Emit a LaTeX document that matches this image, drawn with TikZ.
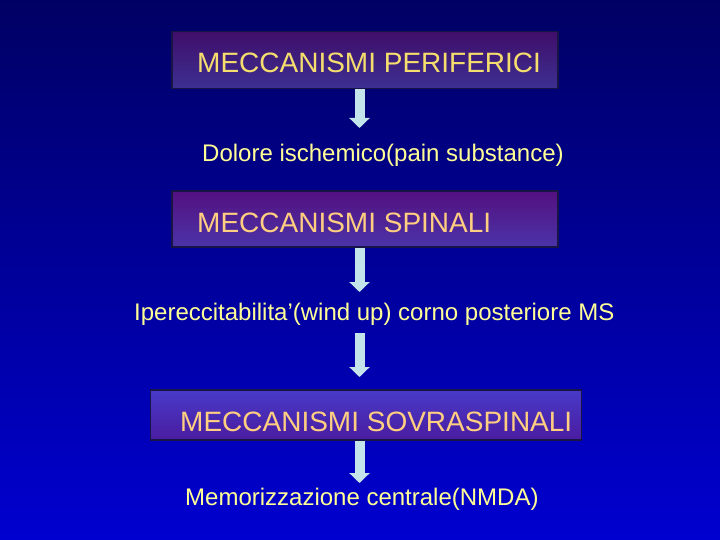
\documentclass[tikz,border=0pt]{standalone}
\usepackage{fontspec}
\setmainfont{Liberation Sans}
\usetikzlibrary{arrows.meta}

\definecolor{skytop}{RGB}{0,0,100}
\definecolor{skybottom}{RGB}{0,0,208}
\definecolor{boxline}{RGB}{24,20,70}
\definecolor{boxtext}{RGB}{255,206,128}
\definecolor{plaintext}{RGB}{255,255,150}
\definecolor{arrowfill}{RGB}{196,228,236}

\begin{document}
\begin{tikzpicture}[x=1pt, y=1pt,
    mechanism/.style ={rectangle, draw=boxline, line width=1.2pt},
    mechlabel/.style ={inner sep=0pt, anchor=base west, text=boxtext,
                       font=\fontsize{28}{32}\selectfont},
    finding/.style ={inner sep=0pt, anchor=base west, text=plaintext,
                     font=\fontsize{24}{28}\selectfont},
    flow/.style ={draw=arrowfill, line width=10pt,
                  -{Triangle[width=20pt,length=10pt]}}]
   \shade[top color=skytop, bottom color=skybottom] (0,0) rectangle (720,-540);
   \useasboundingbox (0,0) rectangle (720,-540);

   % boxes
   \node[mechanism, top color={rgb,255:red,64;green,14;blue,106},
         bottom color={rgb,255:red,60;green,48;blue,146},
         minimum width=386pt, minimum height=57pt] (B1) at (365,-60) {};
   \node[mechanism, top color={rgb,255:red,84;green,16;blue,128},
         bottom color={rgb,255:red,74;green,52;blue,168},
         minimum width=386pt, minimum height=56pt] (B2) at (365,-219) {};
   \node[mechanism, top color={rgb,255:red,72;green,58;blue,200},
         bottom color={rgb,255:red,74;green,28;blue,160},
         minimum width=431pt, minimum height=50pt] (B3) at (366,-415) {};

   \node[mechlabel, text={rgb,255:red,245;green,222;blue,110}] (L1) at (197,-73) {MECCANISMI PERIFERICI};
   \node[mechlabel] (L2) at (197,-233) {MECCANISMI SPINALI};
   \node[mechlabel] (L3) at (180,-431.5) {MECCANISMI SOVRASPINALI};

   % texts between
   \node[finding] (T1) at (202,-162) {Dolore ischemico(pain substance)};
   \node[finding] (T2) at (134,-320) {Ipereccitabilita’(wind up) corno posteriore MS};
   \node[finding] (T3) at (185,-505) {Memorizzazione centrale(NMDA)};

   % arrow tips
   \coordinate (A1) at (359.5,-128);
   \coordinate (A2) at (359.5,-292);
   \coordinate (A3) at (359.5,-377);
   \coordinate (A4) at (359.5,-483);
   \draw[flow] (B1.south -| A1) -- (A1);
   \draw[flow] (B2.south -| A2) -- (A2);
   \draw[flow, shorten <=8pt] (T2.south -| A3) -- (A3);
   \draw[flow] (B3.south -| A4) -- (A4);
 \end{tikzpicture}
\end{document}
